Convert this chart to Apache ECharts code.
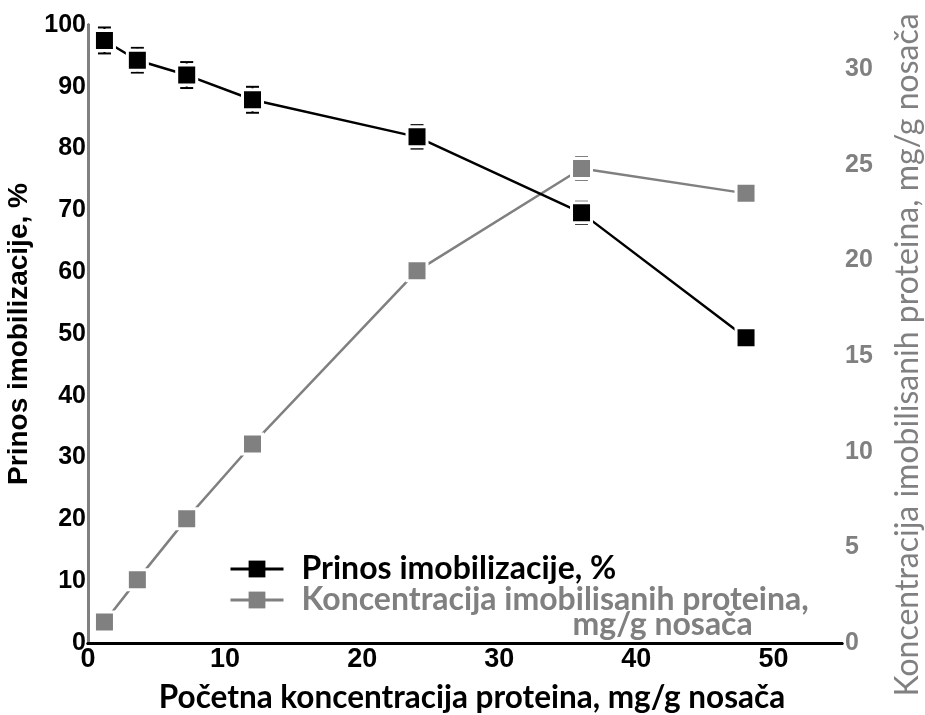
<!DOCTYPE html>
<html>
<head>
<meta charset="utf-8">
<script src="https://cdn.jsdelivr.net/npm/echarts@6/dist/echarts.min.js"></script>
<style>html,body{margin:0;padding:0;background:#fff}#c{width:925px;height:715px}</style>
</head>
<body>
<div id="c"></div>
<script>
// ---- data ----
var xValues = [1.2, 3.6, 7.2, 12, 24, 36, 48];
var yieldValues = [97.5, 94.3, 91.9, 87.9, 81.9, 69.6, 49.4];
var yieldErr = [2.1, 2.0, 2.1, 2.1, 1.9, 1.8, 0.8];
var concValues = [1.1, 3.3, 6.5, 10.4, 19.45, 24.8, 23.5];
var concErr = [0.1, 0.1, 0.1, 0.1, 0.1, 0.6, 0.1];
var xTicks = [0, 10, 20, 30, 40, 50];
var leftTicks = [0, 10, 20, 30, 40, 50, 60, 70, 80, 90, 100];
var rightTicks = [0, 5, 10, 15, 20, 25, 30];
var nameYield = 'Prinos imobilizacije, %';
var nameConc = 'Koncentracija imobilisanih proteina, mg/g nosača';
var legendConcLine1 = 'Koncentracija imobilisanih proteina,';
var legendConcLine2 = 'mg/g nosača';
var xTitle = 'Početna koncentracija proteina, mg/g nosača';
var rightTitle = 'Koncentracija imobilisanih proteina, mg/g nosača';

var BLACK = '#000000', GRAY = '#808080';

function pairs(xs, ys) { return xs.map(function (x, i) { return [x, ys[i]]; }); }
function errData(xs, ys, es) { return xs.map(function (x, i) { return [x, ys[i] - es[i], ys[i] + es[i]]; }); }
function errRender(color) {
  return function (params, api) {
    var x = api.value(0), lo = api.value(1), hi = api.value(2);
    var p1 = api.coord([x, hi]), p2 = api.coord([x, lo]);
    var hw = 6.5;
    var st = { stroke: color, lineWidth: 2 };
    return { type: 'group', children: [
      { type: 'line', shape: { x1: p1[0], y1: p1[1], x2: p2[0], y2: p2[1] }, style: st },
      { type: 'line', shape: { x1: p1[0] - hw, y1: p1[1], x2: p1[0] + hw, y2: p1[1] }, style: st },
      { type: 'line', shape: { x1: p2[0] - hw, y1: p2[1], x2: p2[0] + hw, y2: p2[1] }, style: st }
    ] };
  };
}
function inList(list) { return function (v) { return list.indexOf(Math.round(v * 1000) / 1000) >= 0 ? String(v) : ''; }; }

var chart = echarts.init(document.getElementById('c'), null, { renderer: 'canvas' });
chart.setOption({
  animation: false,
  backgroundColor: '#ffffff',
  grid: { left: 88, right: 83, top: 25, bottom: 72, containLabel: false, outerBoundsMode: 'none' },
  xAxis: [{
    type: 'value', min: 0, max: 55, interval: 10,
    axisLine: { lineStyle: { color: BLACK, width: 3 } },
    axisTick: { show: false }, splitLine: { show: false },
    axisLabel: { color: BLACK, fontFamily: 'Liberation Sans', fontWeight: 'bold', fontSize: 27, margin: 3, formatter: inList(xTicks) },
    name: xTitle, nameLocation: 'middle', nameGap: 39,
    nameTextStyle: { color: BLACK, fontFamily: 'Lato', fontWeight: 'bold', fontSize: 31.5, padding: [0, 0, 0, 14] }
  }, {
    type: 'value', min: 0, max: 55, position: 'top',
    axisLine: { show: true, lineStyle: { color: BLACK, width: 3 } },
    axisTick: { show: false }, axisLabel: { show: false }, splitLine: { show: false }
  }],
  yAxis: [{
    type: 'value', min: 0, max: 100, interval: 10, position: 'left',
    axisLine: { show: true, lineStyle: { color: BLACK, width: 3 } },
    axisTick: { show: false }, splitLine: { show: false },
    axisLabel: { color: BLACK, fontFamily: 'Liberation Sans', fontWeight: 'bold', fontSize: 25, margin: 2, formatter: inList(leftTicks) },
    name: nameYield, nameLocation: 'middle', nameGap: 45,
    nameTextStyle: { color: BLACK, fontFamily: 'Liberation Sans', fontWeight: 'bold', fontSize: 28 }
  }, {
    type: 'value', min: 0, max: 32.3, interval: 5, position: 'right',
    axisLine: { show: true, lineStyle: { color: GRAY, width: 3 } },
    axisTick: { show: false }, splitLine: { show: false },
    axisLabel: { color: GRAY, fontFamily: 'Liberation Sans', fontWeight: 'bold', fontSize: 25, margin: 3, showMaxLabel: false, formatter: inList(rightTicks) },
    name: rightTitle, nameLocation: 'middle', nameGap: 50,
    nameTextStyle: { color: GRAY, fontFamily: 'Lato', fontWeight: 'normal', fontSize: 32, padding: [0, 42, 0, 0] }
  }],
  legend: [{
    data: [nameYield], orient: 'vertical', left: 229, top: 553, padding: 0,
    itemWidth: 53, itemHeight: 21,
    itemStyle: { borderWidth: 0 }, lineStyle: { width: 3 },
    formatter: function (n) { return '{a|' + n + '}'; },
    textStyle: { rich: { a: { color: BLACK, fontFamily: 'Lato', fontWeight: 'bold', fontSize: 32, lineHeight: 28, padding: [0, 0, 0, 13] } } }
  }, {
    data: [nameConc], orient: 'vertical', left: 229, top: 570, padding: 0,
    itemWidth: 53, itemHeight: 21,
    itemStyle: { borderWidth: 0 }, lineStyle: { width: 3 },
    formatter: function () {
      return '{e| }\n{a|' + legendConcLine1 + '}\n{b|' + legendConcLine2 + '}';
    },
    textStyle: { rich: {
      e: { fontSize: 10, lineHeight: 25 },
      a: { color: GRAY, fontFamily: 'Lato', fontWeight: 'bold', fontSize: 32, lineHeight: 25, padding: [0, 0, 0, 13] },
      b: { color: GRAY, fontFamily: 'Lato', fontWeight: 'bold', fontSize: 32, lineHeight: 25, padding: [0, 0, 0, 284] }
    } }
  }],
  series: [{
    type: 'custom', name: 'errConc', xAxisIndex: 0, yAxisIndex: 1,
    renderItem: errRender(GRAY), encode: { x: 0, y: [1, 2] },
    data: errData(xValues, concValues, concErr), z: 2, silent: true
  }, {
    type: 'line', name: nameConc, xAxisIndex: 0, yAxisIndex: 1,
    data: pairs(xValues, concValues),
    symbol: 'rect', symbolSize: 20,
    lineStyle: { color: GRAY, width: 2.5 },
    itemStyle: { color: GRAY, borderColor: '#ffffff', borderWidth: 3 },
    z: 3
  }, {
    type: 'custom', name: 'errYield', xAxisIndex: 0, yAxisIndex: 0,
    renderItem: errRender(BLACK), encode: { x: 0, y: [1, 2] },
    data: errData(xValues, yieldValues, yieldErr), z: 4, silent: true
  }, {
    type: 'line', name: nameYield, xAxisIndex: 0, yAxisIndex: 0,
    data: pairs(xValues, yieldValues),
    symbol: 'rect', symbolSize: 20,
    lineStyle: { color: BLACK, width: 2.5 },
    itemStyle: { color: BLACK, borderColor: '#ffffff', borderWidth: 3 },
    z: 5
  }]
});
</script>
</body>
</html>
